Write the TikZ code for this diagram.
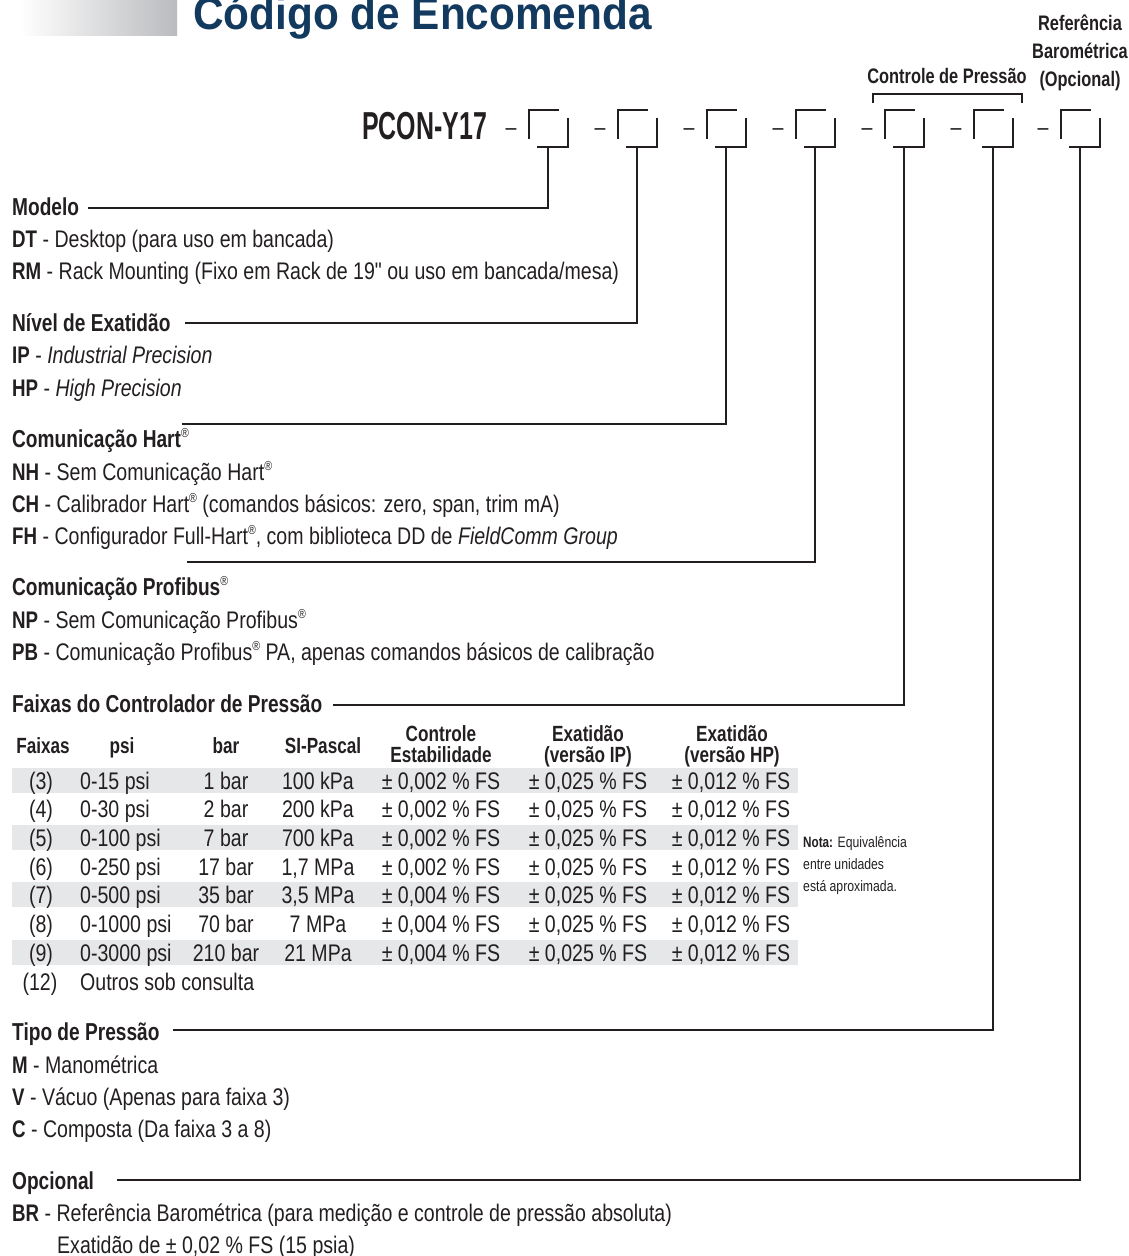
\documentclass[tikz,border=0pt]{standalone}
\usepackage{fontspec}
\setmainfont{Liberation Sans}[FakeStretch=0.815]
\newfontfamily\rgf{Liberation Sans}[FakeStretch=0.815]
\newfontfamily\bdf{Liberation Sans}[FakeStretch=0.78]
\newfontfamily\ttlf{Liberation Sans}[FakeStretch=0.92]
\newfontfamily\pcf{Liberation Sans}[FakeStretch=0.64]
\definecolor{ink}{RGB}{35,31,32}
\definecolor{titleblue}{RGB}{18,57,94}
\definecolor{bandgray}{RGB}{230,231,232}
\definecolor{gradgray}{RGB}{186,187,190}
\newcommand\cd[1]{{\bdf\bfseries #1}}
\newcommand\regm{\raisebox{0.75ex}{\rgf\mdseries\fontsize{13}{13}\selectfont ®}}
\begin{document}
\begin{tikzpicture}[x=1pt,y=-1pt,
  ln/.style={draw=ink, line width=1.3pt, line join=miter},
  body/.style={anchor=base west, inner sep=0pt, text=ink, font=\rgf\fontsize{24}{28}\selectfont},
  head/.style={anchor=base west, inner sep=0pt, text=ink, font=\bdf\bfseries\fontsize{24.5}{28}\selectfont},
  cell/.style={anchor=base, inner sep=0pt, text=ink, font=\rgf\fontsize{24}{28}\selectfont},
  cellw/.style={anchor=base west, inner sep=0pt, text=ink, font=\rgf\fontsize{24}{28}\selectfont},
  th/.style={anchor=base, inner sep=0pt, text=ink, font=\bdf\bfseries\fontsize{22}{22}\selectfont},
  toplab/.style={anchor=base, inner sep=0pt, text=ink, font=\bdf\bfseries\fontsize{21}{21}\selectfont},
  sepdash/.style={anchor=base, inner sep=0pt, text=ink, font=\rgf\fontsize{24}{28}\selectfont},
  notetxt/.style={anchor=base west, inner sep=0pt, text=ink, font=\rgf\fontsize{15}{18}\selectfont}
]
\useasboundingbox (0,0) rectangle (1129,1256);

% title
\shade[left color=white, right color=gradgray] (20,-2) rectangle (177,35);
\node[anchor=base west, inner sep=0pt, text=titleblue, font=\ttlf\bfseries\fontsize{46}{46}\selectfont] (title) at (193,29) {Código de Encomenda};

% top-right labels
\node[toplab] (ref1) at (1080,30) {Referência};
\node[toplab] (ref2) at (1080,58) {Barométrica};
\node[toplab] (ref3) at (1080,86) {(Opcional)};
\node[toplab] (ctrl) at (947,83) {Controle de Pressão};
\coordinate (brA) at (873,103);
\coordinate (brB) at (1022,103);
\draw[ln] (brA) -- (873,94) -- (1022,94) -- (brB);

% code line
\node[anchor=base west, inner sep=0pt, text=ink, font=\pcf\bfseries\fontsize{39}{39}\selectfont] (pcon) at (362,139) {PCON-Y17};
\foreach \i/\x in {1/529,2/618,3/707,4/796,5/885,6/974,7/1061}{
  \node[sepdash] (d\i) at (\x-18,135.5) {–};
  \draw[ln] (\x+30,110) -- (\x,110) -- (\x,139);
  \draw[ln] (\x+39,118) -- (\x+39,147) -- (\x+8,147);
  \coordinate (lead\i) at (\x+19,147);
}

% leader lines
\coordinate (s1) at (88,208);
\coordinate (s2) at (185,323);
\coordinate (s3) at (182,424);
\coordinate (s4) at (187,562);
\coordinate (s5) at (333,705);
\coordinate (s6) at (173,1030);
\coordinate (s7) at (117,1180);
\foreach \i in {1,...,7}{\draw[ln] (lead\i) |- (s\i);}

% Modelo
\node[head] (hmod) at (12,215) {Modelo};
\node[body] (dt) at (12,247) {\cd{DT} - Desktop (para uso em bancada)};
\node[body] (rm) at (12,279) {\cd{RM} - Rack Mounting (Fixo em Rack de 19" ou uso em bancada/mesa)};

% Nivel
\node[head] (hniv) at (12,331) {Nível de Exatidão};
\node[body] (ip) at (12,363) {\cd{IP} - \textit{Industrial Precision}};
\node[body] (hp) at (12,396) {\cd{HP} - \textit{High Precision}};

% Hart
\node[head] (hhart) at (12,447) {Comunicação Hart\regm};
\node[body] (nh) at (12,480) {\cd{NH} - Sem Comunicação Hart\regm};
\node[body] (ch) at (12,512) {\cd{CH} - Calibrador Hart\regm{} (comandos básicos: zero, span, trim mA)};
\node[body] (fh) at (12,544) {\cd{FH} - Configurador Full-Hart\regm, com biblioteca DD de \textit{FieldComm Group}};

% Profibus
\node[head] (hprof) at (12,595) {Comunicação Profibus\regm};
\node[body] (np) at (12,628) {\cd{NP} - Sem Comunicação Profibus\regm};
\node[body] (pb) at (12,660) {\cd{PB} - Comunicação Profibus\regm{} PA, apenas comandos básicos de calibração};

% Faixas
\node[head] (hfx) at (12,712) {Faixas do Controlador de Pressão};

% table header
\node[th] (c1) at (43,753) {Faixas};
\node[th] (c2) at (122,753) {psi};
\node[th] (c3) at (226,753) {bar};
\node[th] (c4) at (323,753) {SI-Pascal};
\node[th] (c5a) at (441,741) {Controle};
\node[th] (c5b) at (441,762) {Estabilidade};
\node[th] (c6a) at (588,741) {Exatidão};
\node[th] (c6b) at (588,762) {(versão IP)};
\node[th] (c7a) at (732,741) {Exatidão};
\node[th] (c7b) at (732,762) {(versão HP)};

% bands
\foreach \r in {0,2,4,6}{
  \fill[bandgray] (12,{780+\r*28.667-12.5}) rectangle (798,{780+\r*28.667+12.5});
}
% rows
\foreach \r/\f/\p/\b/\s/\c in {0/(3)/0-15 psi/1 bar/100 kPa/{0,002},
  1/(4)/0-30 psi/2 bar/200 kPa/{0,002},
  2/(5)/0-100 psi/7 bar/700 kPa/{0,002},
  3/(6)/0-250 psi/17 bar/{1,7 MPa}/{0,002},
  4/(7)/0-500 psi/35 bar/{3,5 MPa}/{0,004},
  5/(8)/0-1000 psi/70 bar/7 MPa/{0,004},
  6/(9)/0-3000 psi/210 bar/21 MPa/{0,004}}{
  \node[cell] (f\r) at (41,{789+\r*28.667}) {\f};
  \node[cellw] (p\r) at (80,{789+\r*28.667}) {\p};
  \node[cell] (b\r) at (226,{789+\r*28.667}) {\b};
  \node[cell] (s\r) at (318,{789+\r*28.667}) {\s};
  \node[cell] (e\r) at (441,{789+\r*28.667}) {± \c\ \% FS};
  \node[cell] (i\r) at (588,{789+\r*28.667}) {± 0,025 \% FS};
  \node[cell] (h\r) at (731,{789+\r*28.667}) {± 0,012 \% FS};
}
\node[cell] (f12) at (40,990) {(12)};
\node[cellw] (p12) at (80,990) {Outros sob consulta};

% note
\node[notetxt] (n1) at (803,847.5) {{\bdf\bfseries Nota:} Equivalência};
\node[notetxt] (n2) at (803,869.5) {entre unidades};
\node[notetxt] (n3) at (803,891.5) {está aproximada.};

% Tipo
\node[head] (htipo) at (12,1040) {Tipo de Pressão};
\node[body] (m) at (12,1073) {\cd{M} - Manométrica};
\node[body] (v) at (12,1105) {\cd{V} - Vácuo (Apenas para faixa 3)};
\node[body] (c) at (12,1137) {\cd{C} - Composta (Da faixa 3 a 8)};

% Opcional
\node[head] (hopc) at (12,1189) {Opcional};
\node[body] (br) at (12,1221) {\cd{BR} - Referência Barométrica (para medição e controle de pressão absoluta)};
\node[body] (br2) at (57,1253) {Exatidão de ± 0,02 \% FS (15 psia)};
\end{tikzpicture}
\end{document}
